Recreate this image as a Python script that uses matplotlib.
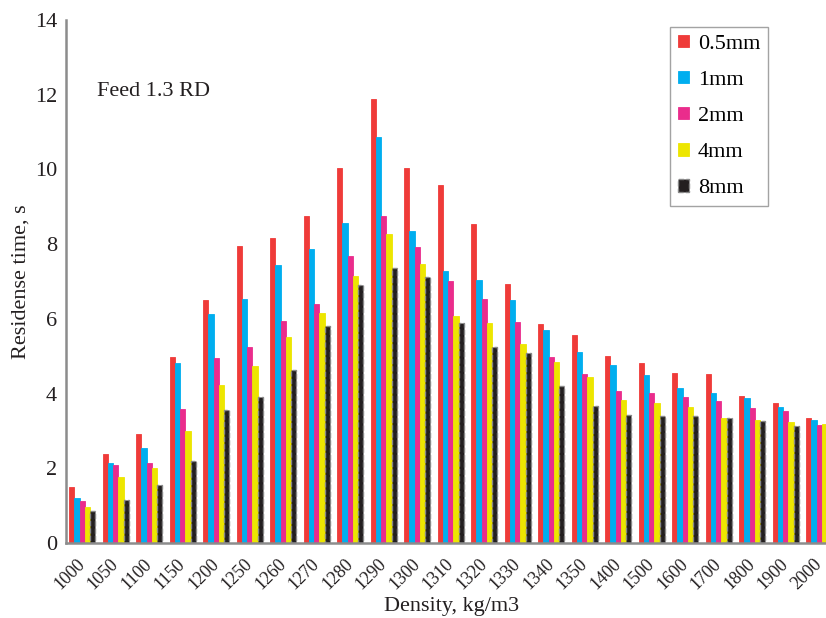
import numpy as np
import matplotlib
matplotlib.use("Agg")
import matplotlib.pyplot as plt
from matplotlib.transforms import ScaledTranslation

plt.rcParams['font.family'] = ['Liberation Serif', 'DejaVu Serif']

# Data
densities = ['1000', '1050', '1100', '1150', '1200', '1250', '1260', '1270', '1280', '1290', '1300',
             '1310', '1320', '1330', '1340', '1350', '1400', '1500', '1600', '1700', '1800', '1900', '2000']
size_labels = ['0.5mm', '1mm', '2mm', '4mm', '8mm']

t_05mm = [1.51, 2.39, 2.93, 4.99, 6.50, 7.94, 8.17, 8.76, 10.04, 11.87, 10.04,
          9.59, 8.53, 6.93, 5.86, 5.57, 5.02, 4.83, 4.56, 4.52, 3.93, 3.76, 3.35]
t_1mm = [1.21, 2.15, 2.55, 4.83, 6.14, 6.53, 7.45, 7.86, 8.56, 10.87, 8.35,
         7.29, 7.05, 6.51, 5.70, 5.11, 4.78, 4.51, 4.14, 4.01, 3.89, 3.65, 3.29]
t_2mm = [1.14, 2.10, 2.15, 3.59, 4.96, 5.25, 5.95, 6.39, 7.69, 8.74, 7.92,
         7.02, 6.53, 5.92, 4.97, 4.52, 4.06, 4.02, 3.91, 3.80, 3.62, 3.53, 3.17]
t_4mm = [0.98, 1.77, 2.01, 3.01, 4.24, 4.73, 5.52, 6.16, 7.15, 8.27, 7.47,
         6.08, 5.89, 5.32, 4.86, 4.44, 3.84, 3.76, 3.63, 3.35, 3.30, 3.25, 3.19]
t_8mm = [0.86, 1.15, 1.56, 2.20, 3.56, 3.92, 4.62, 5.80, 6.90, 7.36, 7.13,
         5.88, 5.26, 5.10, 4.20, 3.67, 3.44, 3.41, 3.39, 3.35, 3.28, 3.14, 3.10]

colors = ['#ef3b39', '#00aeef', '#ea2c8c', '#ede600', '#231f20']
series = [t_05mm, t_1mm, t_2mm, t_4mm, t_8mm]

fig = plt.figure(figsize=(8.26, 6.18), dpi=100)
ax = fig.add_axes([0.080, 0.121, 0.920, 0.847])

x = np.arange(len(densities))
w = 0.157
for i, (vals, c, lab) in enumerate(zip(series, colors, size_labels)):
    pos = x + (i - 2) * w
    if i == 4:
        ax.bar(pos, vals, w, color=c, edgecolor='#888888', linestyle='--',
               linewidth=1.0, label=lab)
    else:
        ax.bar(pos, vals, w, color=c, edgecolor=c, linewidth=0.6, label=lab)

ax.set_xlim(-0.48, 22.2)
ax.set_ylim(0, 14)
ax.set_yticks(range(0, 15, 2))
ax.set_xticks(x)
ax.set_xticklabels(densities, rotation=45, ha='right', rotation_mode='anchor')
ax.tick_params(axis='both', length=0, colors='#231f20')
ax.tick_params(axis='x', pad=9, labelsize=13)
ax.tick_params(axis='y', pad=6.5, labelsize=16)

# nudge rotated labels a bit to the left so they sit under the groups
shift = ScaledTranslation(-0.06, 0, fig.dpi_scale_trans)
for lbl in ax.get_xticklabels():
    lbl.set_transform(lbl.get_transform() + shift)

for s in ['top', 'right']:
    ax.spines[s].set_visible(False)
for s in ['left', 'bottom']:
    ax.spines[s].set_color('#8c8c8c')
    ax.spines[s].set_linewidth(1.8)

ax.set_ylabel('Residense time, s', fontsize=16, color='#231f20', labelpad=3)
ax.set_xlabel('Density, kg/m3', fontsize=16, color='#231f20')
ax.xaxis.set_label_coords(0.507, -0.103)

ax.text(0.041, 0.855, 'Feed 1.3 RD', transform=ax.transAxes, fontsize=16,
        color='#231f20', va='baseline')

leg = ax.legend(loc='upper right', bbox_to_anchor=(0.9237, 0.9866), fontsize=16,
                frameon=True, fancybox=False, edgecolor='#8c8c8c',
                handlelength=0.5, handleheight=0.5, labelspacing=0.76,
                handletextpad=0.4, borderpad=0.35, borderaxespad=0)
leg.get_frame().set_linewidth(1.0)

fig.savefig('out.png', dpi=100)
